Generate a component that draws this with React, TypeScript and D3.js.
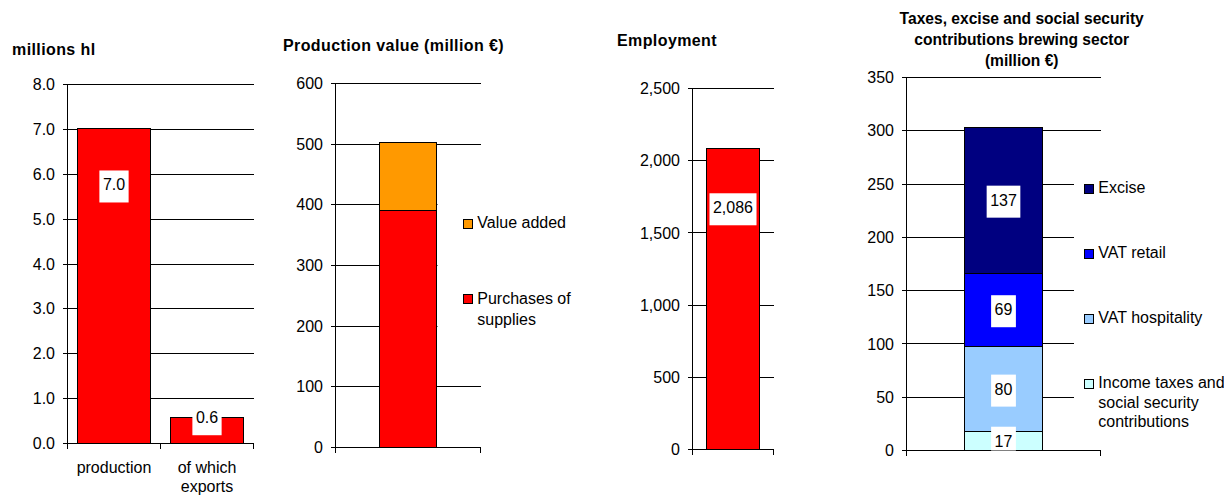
import React from "react";
import * as d3 from "d3";

const FONT = "'Liberation Sans', Arial, Helvetica, sans-serif";

// ---- Data ----
// Panel 1: volumes (millions hl)
const volumeCategories = ["production", "of which\nexports"];
const volumeValues = [7.02, 0.57];
const volumeTicks = [0, 1, 2, 3, 4, 5, 6, 7, 8];

// Panel 2: production value (million €)
const pvSeries = ["Purchases of\nsupplies", "Value added"];
const pvValues = [390, 112];
const pvColors = ["#FF0000", "#FF9900"];
const pvTicks = [0, 100, 200, 300, 400, 500, 600];

// Panel 3: employment
const empValues = [2086];
const empTicks = [0, 500, 1000, 1500, 2000, 2500];

// Panel 4: taxes (million €)
const taxSeries = [
  "Income taxes and\nsocial security\ncontributions",
  "VAT hospitality",
  "VAT retail",
  "Excise",
];
const taxValues = [17.4, 80.4, 68.6, 137];
const taxColors = ["#CCFFFF", "#99CCFF", "#0000FF", "#000080"];
const taxTicks = [0, 50, 100, 150, 200, 250, 300, 350];

// ---- helpers ----
const GLYPH: Record<string, number> = { ".": 0.278, ",": 0.278 };
function textWidth(s: string, size: number) {
  let w = 0;
  for (const c of s) w += (GLYPH[c] ?? 0.556) * size;
  return w;
}

type Panel = {
  id: string;
  x0: number;
  x1: number;
  yTop: number;
  yBot: number;
  max: number;
  ticks: number[];
  fmt: (v: number) => string;
  nCat: number;
  padding: number;
};

function makeScales(p: Panel) {
  const y = d3.scaleLinear().domain([0, p.max]).range([p.yBot, p.yTop]);
  const x = d3
    .scaleBand<number>()
    .domain(d3.range(p.nCat))
    .range([p.x0, p.x1])
    .paddingInner(p.padding)
    .paddingOuter(p.padding / 2);
  return { x, y };
}

function Grid({ p }: { p: Panel }) {
  const { y } = makeScales(p);
  return (
    <g shapeRendering="crispEdges">
      {p.ticks.map((t) => (
        <line key={t} x1={p.x0} x2={p.x1} y1={y(t)} y2={y(t)} stroke="#000" strokeWidth={1} />
      ))}
    </g>
  );
}

function Axes({ p }: { p: Panel }) {
  const { y, x } = makeScales(p);
  const step = x.step();
  const edges = d3.range(p.nCat + 1).map((i) => p.x0 + i * step);
  return (
    <g>
      <g shapeRendering="crispEdges" stroke="#000" strokeWidth={1}>
        <line x1={p.x0} x2={p.x0} y1={p.yTop} y2={p.yBot} />
        <line x1={p.x0} x2={p.x1} y1={p.yBot} y2={p.yBot} />
        {p.ticks.map((t) => (
          <line key={t} x1={p.x0 - 5} x2={p.x0} y1={y(t)} y2={y(t)} />
        ))}
        {edges.map((e, i) => (
          <line key={i} x1={e} x2={e} y1={p.yBot} y2={p.yBot + 5} />
        ))}
      </g>
      {p.ticks.map((t) => (
        <text
          key={t}
          x={p.x0 - 12.5}
          y={y(t) + 5.6}
          textAnchor="end"
          fontFamily={FONT}
          fontSize={16}
        >
          {p.fmt(t)}
        </text>
      ))}
    </g>
  );
}

function DataLabel({ cx, baseline, text, clip }: { cx: number; baseline: number; text: string; clip?: string }) {
  const w = textWidth(text, 16) + 7;
  return (
    <g clipPath={clip}>
      <rect x={cx - w / 2} y={baseline - 20} width={w} height={32} fill="#fff" />
      <text x={cx} y={baseline} textAnchor="middle" fontFamily={FONT} fontSize={16}>
        {text}
      </text>
    </g>
  );
}

function Legend({
  names,
  colors,
  sx,
  top,
  spacing,
  tx,
  lineH,
}: {
  names: string[];
  colors: string[];
  sx: number;
  top: number;
  spacing: number;
  tx: number;
  lineH: number;
}) {
  return (
    <g>
      {names.map((n, i) => {
        const sy = top + i * spacing;
        return (
          <g key={n}>
            <rect x={sx + 0.5} y={sy + 0.5} width={9} height={9} fill={colors[i]} stroke="#000" strokeWidth={1} shapeRendering="crispEdges" />
            <text fontFamily={FONT} fontSize={16}>
              {n.split("\n").map((ln, j) => (
                <tspan key={j} x={tx} y={sy + 9.5 + j * lineH}>
                  {ln}
                </tspan>
              ))}
            </text>
          </g>
        );
      })}
    </g>
  );
}

const f1 = d3.format(".1f");
const fInt = d3.format(",.0f");

const P1: Panel = { id: "p1", x0: 67.5, x1: 253.5, yTop: 84.5, yBot: 443.5, max: 8, ticks: volumeTicks, fmt: f1, nCat: 2, padding: 0.21 };
const P2: Panel = { id: "p2", x0: 335.5, x1: 480.5, yTop: 83.5, yBot: 447.5, max: 600, ticks: pvTicks, fmt: fInt, nCat: 1, padding: 0.607 };
const P3: Panel = { id: "p3", x0: 692.5, x1: 773.5, yTop: 88.5, yBot: 449.5, max: 2500, ticks: empTicks, fmt: fInt, nCat: 1, padding: 0.346 };
const P4: Panel = { id: "p4", x0: 906.5, x1: 1100.5, yTop: 77.5, yBot: 450.5, max: 350, ticks: taxTicks, fmt: fInt, nCat: 1, padding: 0.6 };

function Panel1() {
  const p = P1;
  const { x, y } = makeScales(p);
  const labelDy = [62, 5.3];
  return (
    <g>
      <text x={12} y={55} fontFamily={FONT} fontSize={16} fontWeight="bold" letterSpacing={0.4}>
        millions hl
      </text>
      <Grid p={p} />
      {volumeValues.map((v, i) => (
        <rect key={i} x={x(i)!} y={y(v)} width={x.bandwidth()} height={y(0) - y(v)} fill="#FF0000" stroke="#000" strokeWidth={1} shapeRendering="crispEdges" />
      ))}
      <Axes p={p} />
      {volumeValues.map((v, i) => (
        <DataLabel key={i} cx={x(i)! + x.bandwidth() / 2} baseline={y(v) + labelDy[i]} text={f1(v)} />
      ))}
      {volumeCategories.map((c, i) => (
        <text key={c} textAnchor="middle" fontFamily={FONT} fontSize={16}>
          {c.split("\n").map((ln, j) => (
            <tspan key={j} x={x(i)! + x.bandwidth() / 2} y={p.yBot + 29.5 + j * 18.5}>
              {ln}
            </tspan>
          ))}
        </text>
      ))}
    </g>
  );
}

function Panel2() {
  const p = P2;
  const { x, y } = makeScales(p);
  const stack = d3.cumsum(pvValues);
  return (
    <g>
      <text x={283} y={51} fontFamily={FONT} fontSize={16} fontWeight="bold" letterSpacing={0.4}>
        Production value (million €)
      </text>
      <Grid p={p} />
      {pvValues.map((v, i) => {
        const lo = stack[i] - v;
        return (
          <rect key={i} x={x(0)!} y={y(stack[i])} width={x.bandwidth()} height={y(lo) - y(stack[i])} fill={pvColors[i]} stroke="#000" strokeWidth={1} shapeRendering="crispEdges" />
        );
      })}
      <rect x={x(0)! + x.bandwidth() + 1} y={180} width={130} height={160} fill="#fff" />
      <Legend
        names={[...pvSeries].reverse()}
        colors={[...pvColors].reverse()}
        sx={463}
        top={218.5}
        spacing={75.5}
        tx={477.3}
        lineH={21}
      />
      <Axes p={p} />
    </g>
  );
}

function Panel3() {
  const p = P3;
  const { x, y } = makeScales(p);
  return (
    <g>
      <text x={617} y={46} fontFamily={FONT} fontSize={16} fontWeight="bold" letterSpacing={0.4}>
        Employment
      </text>
      <Grid p={p} />
      {empValues.map((v, i) => (
        <rect key={i} x={x(i)!} y={y(v)} width={x.bandwidth()} height={y(0) - y(v)} fill="#FF0000" stroke="#000" strokeWidth={1} shapeRendering="crispEdges" />
      ))}
      <Axes p={p} />
      {empValues.map((v, i) => (
        <DataLabel key={i} cx={x(i)! + x.bandwidth() / 2} baseline={y(v) + 65} text={fInt(v)} />
      ))}
    </g>
  );
}

function Panel4() {
  const p = P4;
  const { x, y } = makeScales(p);
  const stack = d3.cumsum(taxValues);
  const titleLines = ["Taxes, excise and social security", "contributions brewing sector", "(million €)"];
  return (
    <g>
      <defs>
        <clipPath id="p4clip">
          <rect x={p.x0} y={p.yTop} width={p.x1 - p.x0} height={p.yBot - p.yTop} />
        </clipPath>
      </defs>
      <text textAnchor="middle" fontFamily={FONT} fontSize={15.6} fontWeight="bold">
        {titleLines.map((ln, j) => (
          <tspan key={j} x={1021.7} y={24 + j * 21}>
            {ln}
          </tspan>
        ))}
      </text>
      <Grid p={p} />
      {taxValues.map((v, i) => {
        const lo = stack[i] - v;
        return (
          <rect key={i} x={x(0)!} y={y(stack[i])} width={x.bandwidth()} height={y(lo) - y(stack[i])} fill={taxColors[i]} stroke="#000" strokeWidth={1} shapeRendering="crispEdges" />
        );
      })}
      <rect x={1074} y={150} width={150} height={290} fill="#fff" />
      <Legend
        names={[...taxSeries].reverse()}
        colors={[...taxColors].reverse()}
        sx={1084}
        top={183.5}
        spacing={65}
        tx={1098.3}
        lineH={19.5}
      />
      <Axes p={p} />
      {taxValues.map((v, i) => {
        const lo = stack[i] - v;
        const mid = (y(lo) + y(stack[i])) / 2;
        return (
          <DataLabel key={i} cx={x(0)! + x.bandwidth() / 2} baseline={mid + 5.5} text={fInt(v)} clip="url(#p4clip)" />
        );
      })}
    </g>
  );
}

export default function App() {
  return (
    <svg
      width={1224}
      height={495}
      viewBox="0 0 1224 495"
      style={{ position: "absolute", left: 0, top: 0, background: "#fff" }}
    >
      <rect width={1224} height={495} fill="#fff" />
      <Panel1 />
      <Panel2 />
      <Panel3 />
      <Panel4 />
    </svg>
  );
}
